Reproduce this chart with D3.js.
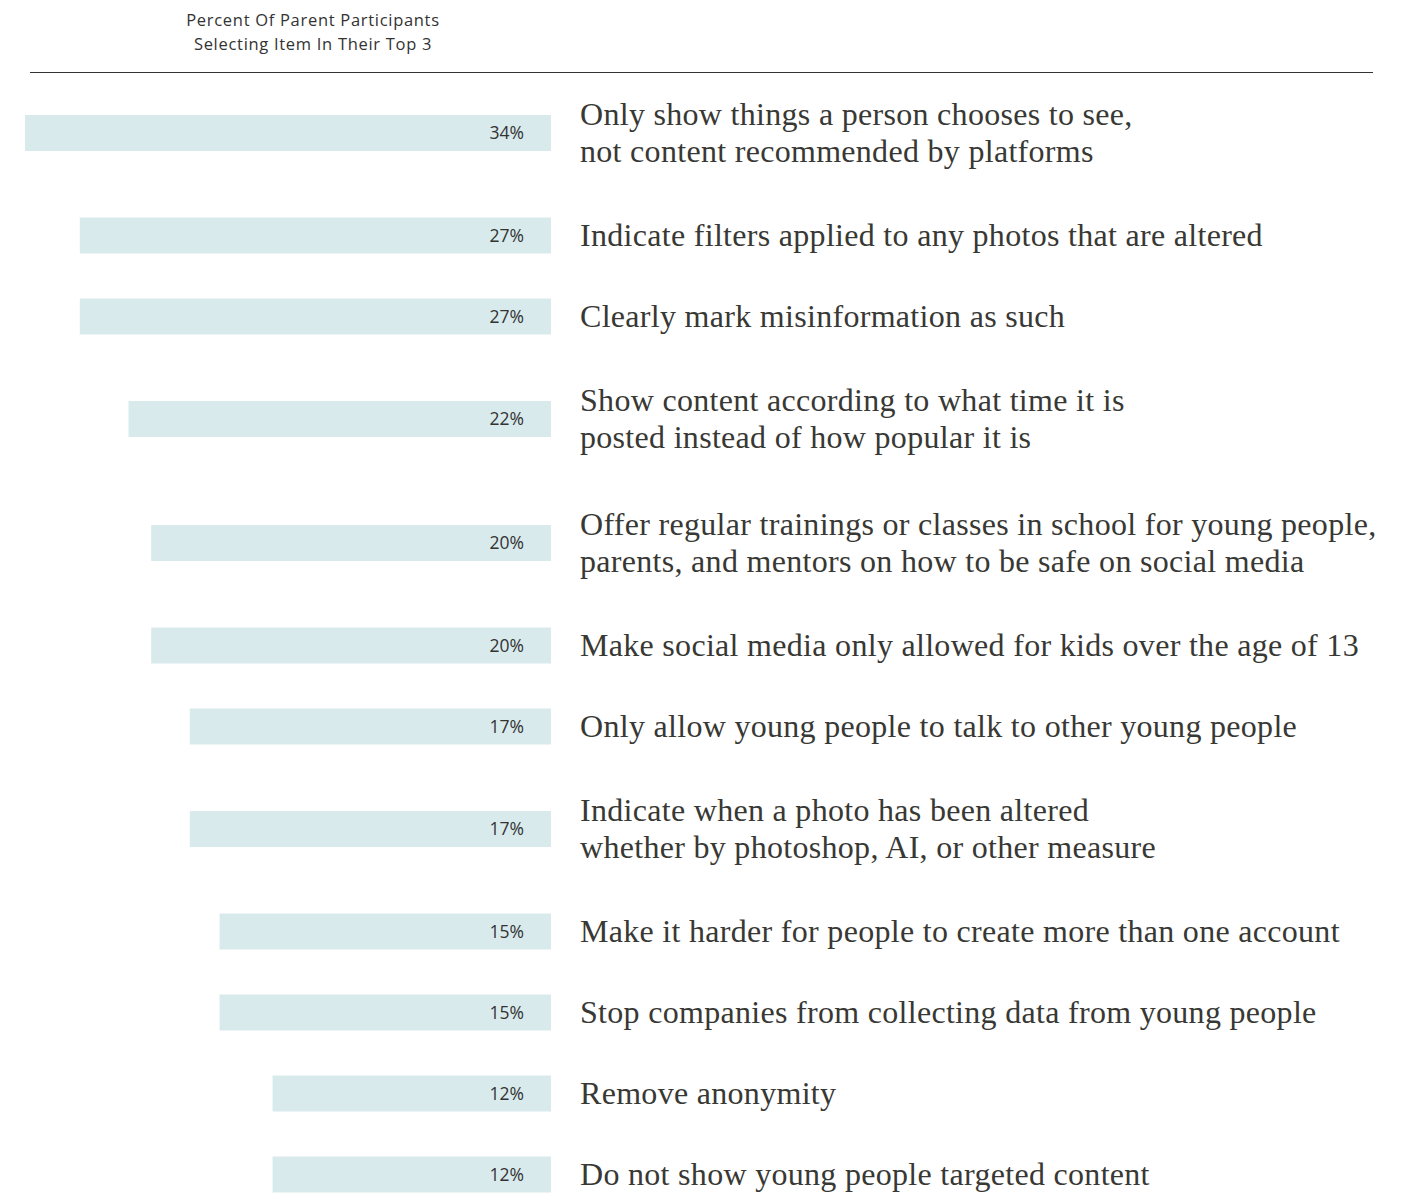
<!DOCTYPE html>
<html>
<head>
<meta charset="utf-8">
<script src="https://cdn.jsdelivr.net/npm/d3@7"></script>
<style>
  body { margin: 0; background: #fff; }
</style>
</head>
<body>
<svg></svg>
<script>
var width = 1415;
var height = 1196;

// data
var labels = [
    ["Only show things a person chooses to see,", "not content recommended by platforms"],
    ["Indicate filters applied to any photos that are altered"],
    ["Clearly mark misinformation as such"],
    ["Show content according to what time it is", "posted instead of how popular it is"],
    ["Offer regular trainings or classes in school for young people,", "parents, and mentors on how to be safe on social media"],
    ["Make social media only allowed for kids over the age of 13"],
    ["Only allow young people to talk to other young people"],
    ["Indicate when a photo has been altered", "whether by photoshop, AI, or other measure"],
    ["Make it harder for people to create more than one account"],
    ["Stop companies from collecting data from young people"],
    ["Remove anonymity"],
    ["Do not show young people targeted content"]
];
var values = [34, 27, 27, 22, 20, 20, 17, 17, 15, 15, 12, 12];
var headerLines = ["Percent Of Parent Participants", "Selecting Item In Their Top 3"];

var barRight = 551;
var lineH = 37;
var sans = "'Open Sans', Lato, sans-serif";

var svg = d3.select("svg")
    .attr("width", width)
    .attr("height", height);

// header
svg.append("text")
    .attr("x", 313)
    .attr("y", 26)
    .attr("text-anchor", "middle")
    .style("font-family", sans)
    .style("font-size", "16.5px")
    .style("letter-spacing", "0.7px")
    .style("fill", "#333")
    .selectAll("tspan")
    .data(headerLines)
    .enter().append("tspan")
    .attr("x", 313)
    .attr("dy", function(d, i) { return i ? 24 : 0; })
    .text(function(d) { return d; });

svg.append("line")
    .attr("x1", 30).attr("x2", 1373)
    .attr("y1", 72.5).attr("y2", 72.5)
    .style("stroke", "#333")
    .style("stroke-width", 1);

// bar length scale
var x = d3.scaleLog()
    .domain([3.72, 34])
    .range([barRight, 25]);

// row layout: taller rows for two-line labels
var rowH = labels.map(function(d) { return 38 + 43 * d.length; });
var ends = d3.cumsum(rowH);
var top0 = 133 - rowH[0] / 2;
var centers = rowH.map(function(h, i) { return top0 + ends[i] - h / 2; });

var rows = svg.selectAll("g.row")
    .data(values)
    .enter().append("g")
    .attr("class", "row")
    .attr("transform", function(d, i) { return "translate(0," + centers[i] + ")"; });

rows.append("rect")
    .attr("x", function(d) { return x(d); })
    .attr("y", -18)
    .attr("width", function(d) { return barRight - x(d); })
    .attr("height", 36)
    .style("fill", "#d9eaed");

rows.append("text")
    .attr("x", 524)
    .attr("y", 6)
    .attr("text-anchor", "end")
    .style("font-family", sans)
    .style("font-size", "17.5px")
    .style("fill", "#333")
    .text(function(d) { return d + "%"; });

rows.append("text")
    .attr("y", function(d, i) { return 10 - (labels[i].length - 1) * lineH / 2; })
    .style("font-family", "'Liberation Serif', serif")
    .style("font-size", "32px")
    .style("letter-spacing", "0.3px")
    .style("fill", "#383834")
    .selectAll("tspan")
    .data(function(d, i) { return labels[i]; })
    .enter().append("tspan")
    .attr("x", 580)
    .attr("dy", function(d, i) { return i ? lineH : 0; })
    .text(function(d) { return d; });
</script>
</body>
</html>
